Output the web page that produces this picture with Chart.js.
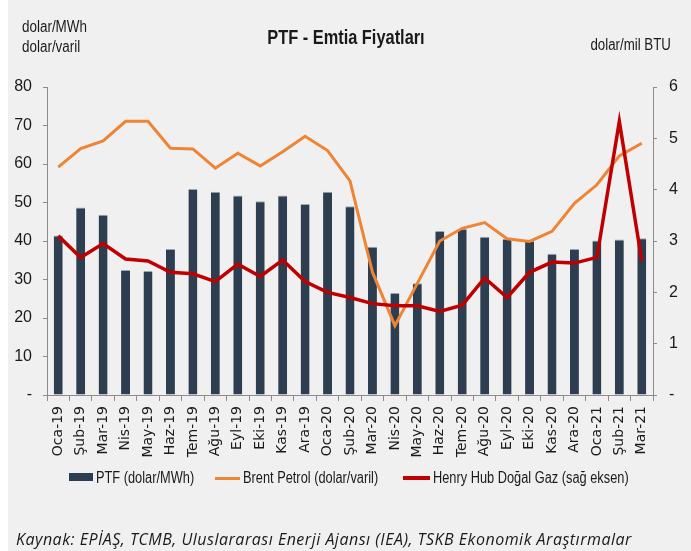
<!DOCTYPE html>
<html>
<head>
<meta charset="utf-8">
<script src="https://cdn.jsdelivr.net/npm/chart.js@4"></script>
<style>
  html, body { margin: 0; padding: 0; background: #fff; }
  #wrap { position: relative; width: 691px; height: 551px; overflow: hidden; }
  #bg { position: absolute; left: 8px; top: 0; right: 0; bottom: 0; background: #f0f0f0; }
  #chart { position: absolute; left: 0; top: 0; width: 691px; height: 551px; }
  .txt { position: absolute; white-space: nowrap; color: #1a1a1a;
         font-family: "Liberation Sans", sans-serif; }
  .nl { transform: scaleX(0.84); transform-origin: left center; }
  .nr { transform: scaleX(0.83); transform-origin: right center; }
  .sw { position: absolute; }
</style>
</head>
<body>
<div id="wrap">
  <div id="bg"></div>
  <canvas id="chart" width="691" height="551"></canvas>
  <div class="txt nl" style="left:22px;top:17px;font-size:16px;line-height:20px;">dolar/MWh</div>
  <div class="txt nl" style="left:22px;top:37px;font-size:16px;line-height:20px;">dolar/varil</div>
  <div class="txt" style="left:0;width:692px;text-align:center;top:25px;font-size:21px;line-height:24px;font-weight:bold;">
    <span style="display:inline-block;transform:scaleX(0.78);">PTF - Emtia Fiyatları</span>
  </div>
  <div class="txt nr" style="right:20px;top:35px;font-size:16px;line-height:20px;">dolar/mil BTU</div>

  <div class="sw" style="left:69px;top:473px;width:24px;height:8px;background:#2c3e50;"></div>
  <div class="txt nl" style="left:96px;top:468px;font-size:16px;line-height:20px;transform:scaleX(0.8);">PTF (dolar/MWh)</div>
  <div class="sw" style="left:215px;top:477px;width:25px;height:3px;background:#ee8434;"></div>
  <div class="txt nl" style="left:243px;top:468px;font-size:16px;line-height:20px;transform:scaleX(0.8);">Brent Petrol (dolar/varil)</div>
  <div class="sw" style="left:403px;top:476px;width:27px;height:4px;background:#c00000;"></div>
  <div class="txt nl" style="left:433px;top:468px;font-size:16px;line-height:20px;transform:scaleX(0.8);">Henry Hub Doğal Gaz (sağ eksen)</div>

  <div class="txt" style="left:16px;top:529px;font-size:16px;line-height:20px;letter-spacing:0.5px;font-style:italic;font-family:'Open Sans',sans-serif;">Kaynak: EPİAŞ, TCMB, Uluslararası Enerji Ajansı (IEA), TSKB Ekonomik Araştırmalar</div>
</div>
<script>
// aylar
var months = ['Oca-19','Şub-19','Mar-19','Nis-19','May-19','Haz-19','Tem-19','Ağu-19','Eyl-19','Eki-19','Kas-19','Ara-19',
  'Oca-20','Şub-20','Mar-20','Nis-20','May-20','Haz-20','Tem-20','Ağu-20','Eyl-20','Eki-20','Kas-20','Ara-20',
  'Oca-21','Şub-21','Mar-21'];

// PTF (dolar/MWh)
var ptf = [41.4, 48.7, 46.8, 32.5, 32.2, 37.9, 53.5, 52.8, 51.8, 50.3, 51.8, 49.6,
  52.8, 49.0, 38.5, 26.5, 29.0, 42.6, 43.1, 41.1, 40.6, 40.0, 36.7, 37.9,
  40.1, 40.4, 40.7];

// Brent (dolar/varil)
var brent = [59.2, 64.0, 66.0, 71.1, 71.1, 64.1, 63.9, 58.9, 62.8, 59.5, 63.2, 67.2,
  63.5, 55.6, 31.9, 18.0, 29.0, 40.0, 43.3, 44.8, 40.6, 39.9, 42.5, 49.8,
  54.6, 62.1, 65.4];

// Henry Hub (dolar/mil BTU, sag eksen)
var henryHub = [3.10, 2.68, 2.95, 2.65, 2.61, 2.39, 2.36, 2.21, 2.55, 2.31, 2.63, 2.21,
  2.00, 1.90, 1.78, 1.74, 1.74, 1.63, 1.75, 2.28, 1.90, 2.39, 2.59, 2.57,
  2.68, 5.33, 2.61];

var axisColor = '#8c8c8c';
var tickFont = { family: '"Liberation Sans", sans-serif', size: 16 };

var ctx = document.getElementById('chart');
var chart = new Chart(ctx, {
  type: 'bar',
  data: {
    labels: months,
    datasets: [
      {
        label: 'PTF (dolar/MWh)',
        data: ptf,
        backgroundColor: '#2c3e50',
        borderColor: '#9aa6b2',
        borderWidth: { top: 1, left: 0, right: 0, bottom: 0 },
        barPercentage: 0.4,
        categoryPercentage: 1,
        yAxisID: 'y',
        order: 3
      },
      {
        type: 'line',
        label: 'Brent Petrol (dolar/varil)',
        data: brent,
        borderColor: '#ee8434',
        borderWidth: 3,
        pointRadius: 0,
        tension: 0,
        yAxisID: 'y',
        order: 2
      },
      {
        type: 'line',
        label: 'Henry Hub Doğal Gaz (sağ eksen)',
        data: henryHub,
        borderColor: '#c00000',
        borderWidth: 3.5,
        pointRadius: 0,
        tension: 0,
        yAxisID: 'y1',
        order: 1
      }
    ]
  },
  options: {
    responsive: false,
    animation: false,
    layout: { padding: { top: 87, left: 0, right: 0, bottom: 0 } },
    plugins: { legend: { display: false }, title: { display: false }, tooltip: { enabled: false } },
    scales: {
      x: {
        offset: true,
        grid: { offset: true, drawOnChartArea: false, color: axisColor, tickLength: 6 },
        border: { color: axisColor },
        ticks: { minRotation: 90, maxRotation: 90, padding: 5, color: '#1a1a1a',
                 font: { family: '"DejaVu Sans", sans-serif', size: 14 } },
        afterFit: function(s) { s.height = 156; }
      },
      y: {
        position: 'left',
        min: 0, max: 80,
        ticks: { stepSize: 10, padding: 11, color: '#1a1a1a', font: tickFont,
                 callback: function(v) { return v === 0 ? '-' : v; } },
        grid: { drawOnChartArea: false, color: axisColor, tickLength: 4 },
        border: { color: axisColor },
        afterFit: function(s) { s.width = 47; }
      },
      y1: {
        position: 'right',
        min: 0, max: 6,
        ticks: { stepSize: 1, padding: 12, color: '#1a1a1a', font: tickFont,
                 callback: function(v) { return v === 0 ? '-' : v; } },
        grid: { drawOnChartArea: false, color: axisColor, tickLength: 4 },
        border: { color: axisColor },
        afterFit: function(s) { s.width = 38; }
      }
    }
  }
});
</script>
</body>
</html>
